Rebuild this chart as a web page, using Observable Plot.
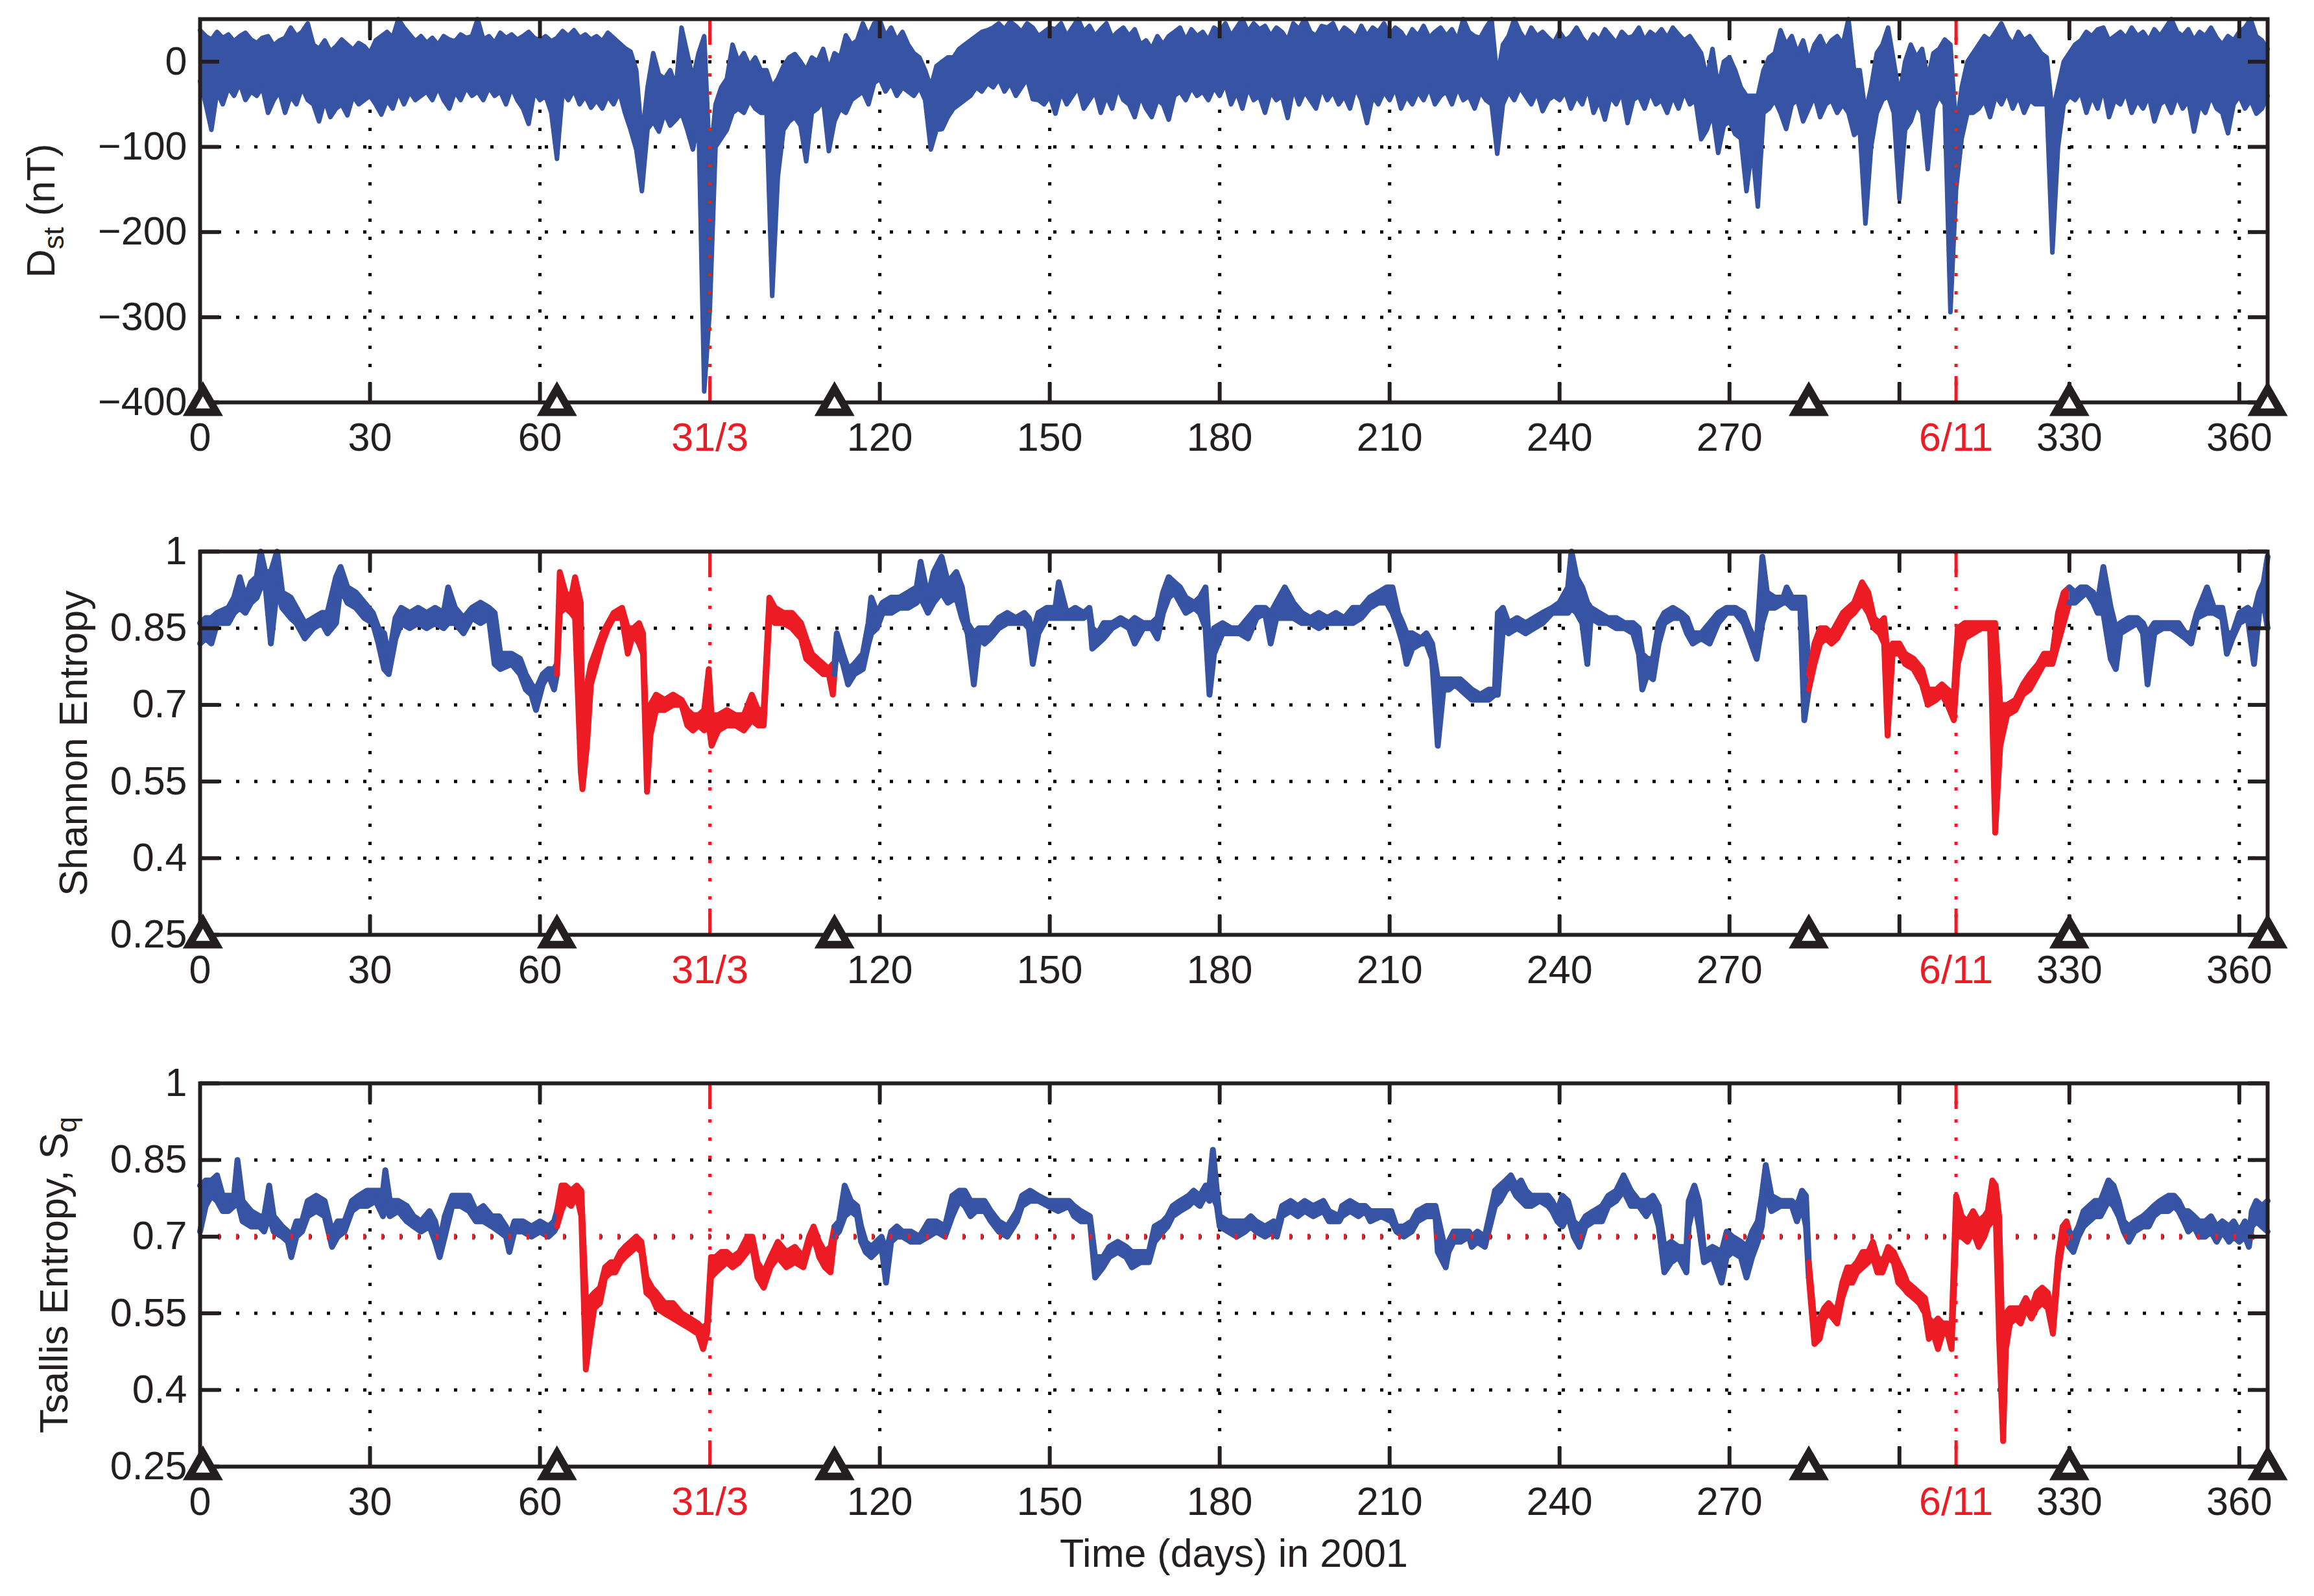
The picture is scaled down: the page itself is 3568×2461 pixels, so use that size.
<!DOCTYPE html>
<html><head><meta charset="utf-8">
<script src="https://cdn.jsdelivr.net/npm/d3@7"></script>
<script src="https://cdn.jsdelivr.net/npm/@observablehq/plot@0.6"></script>
<style>
html,body{margin:0;padding:0;background:#fff;overflow:hidden;}
#chart{position:relative;width:3568px;height:2461px;background:#fff;}
#chart svg{position:absolute;left:0;}
</style></head><body><div id="chart"></div>
<script>
// ---------- x axis ticks / events ----------
const tickDays = [30,60,120,150,180,210,240,270,300,330,360];
const labelDays = [0,30,60,120,150,180,210,240,270,330,360];
const labelTexts = ["0","30","60","120","150","180","210","240","270","330","360"];
const eventDays = [90, 310];
const eventLabels = ["31/3", "6/11"];
const triangleDays = [0.5, 63, 112, 284, 330, 365];

// ---------- Dst (nT), daily high / low envelope, index = day ----------
const dstHigh = [
 37,30,26,35,28,32,24,30,34,26,
 22,28,30,19,25,28,40,30,35,45,
 20,15,25,12,18,26,20,14,22,18,
 10,25,30,35,28,50,40,32,24,30,
 22,28,20,30,26,24,32,28,30,50,
 26,30,22,34,28,32,26,30,35,28,
 25,30,24,28,36,30,37,28,32,26,
 30,24,34,28,22,16,12,-10,-90,-30,
 10,-15,-20,-10,-30,40,10,-20,10,30,
 -120,-50,-30,-20,20,0,10,-5,5,-10,
 -10,-30,-20,-5,5,9,0,-10,5,0,
 15,-10,10,5,31,20,25,45,30,45,
 49,30,40,25,35,20,10,5,-10,-30,
 -5,0,5,5,15,20,25,30,35,37,
 40,45,38,47,42,35,45,40,30,35,
 40,38,45,30,40,50,35,42,30,38,
 45,28,35,40,30,38,20,25,15,30,
 20,30,35,40,25,38,30,35,25,40,
 35,45,30,40,50,35,45,38,42,30,
 40,35,25,45,38,50,35,30,42,40,
 45,30,40,35,28,42,30,40,35,45,
 30,40,35,25,38,30,42,28,35,40,
 30,38,25,50,35,30,28,40,50,-20,
 20,30,50,35,25,40,30,35,28,22,
 35,25,30,40,28,20,32,25,38,30,
 22,35,28,30,40,25,35,30,38,28,
 40,32,25,30,20,10,-20,15,-30,0,
 5,-10,-30,-40,-40,-40,-10,5,10,37,
 20,30,10,25,0,20,30,15,25,30,
 20,50,-10,-10,-60,-30,10,20,40,0,
 -40,0,20,5,15,-20,10,15,26,20,
 -80,-30,0,10,20,30,25,35,45,30,
 20,35,25,30,20,10,5,-60,-30,0,
 10,20,25,35,30,38,40,25,30,35,
 28,40,30,35,25,38,30,40,50,35,
 30,38,25,35,30,40,28,20,30,25,
 35,40,50,30,25,15
];
const dstLow = [
 -23,-50,-80,-35,-50,-30,-40,-25,-45,-35,
 -40,-30,-60,-45,-35,-60,-40,-50,-30,-45,
 -50,-70,-45,-65,-55,-50,-63,-40,-50,-45,
 -40,-50,-62,-45,-55,-35,-50,-35,-45,-40,
 -35,-45,-30,-45,-55,-35,-45,-30,-40,-35,
 -45,-30,-40,-35,-50,-30,-45,-55,-73,-35,
 -45,-40,-60,-114,-35,-45,-33,-50,-40,-54,
 -45,-55,-40,-50,-35,-60,-80,-103,-152,-79,
 -70,-82,-60,-75,-68,-60,-80,-103,-70,-387,
 -290,-100,-90,-80,-60,-55,-60,-45,-55,-60,
 -60,-275,-135,-80,-70,-65,-75,-117,-60,-55,
 -45,-105,-70,-55,-60,-45,-40,-35,-50,-25,
 -20,-35,-25,-40,-30,-35,-40,-30,-45,-103,
 -80,-79,-65,-55,-50,-45,-40,-30,-35,-25,
 -30,-20,-35,-25,-40,-30,-20,-44,-45,-50,
 -40,-61,-35,-50,-40,-30,-55,-45,-35,-60,
 -40,-55,-30,-45,-50,-65,-40,-55,-65,-45,
 -50,-68,-40,-35,-45,-30,-40,-35,-45,-30,
 -40,-25,-50,-35,-55,-30,-45,-40,-60,-35,
 -45,-40,-66,-30,-50,-35,-45,-55,-30,-45,
 -35,-50,-40,-55,-30,-45,-72,-40,-50,-35,
 -45,-30,-55,-40,-50,-35,-45,-30,-50,-40,
 -35,-50,-30,-45,-40,-55,-35,-45,-50,-108,
 -50,-35,-45,-30,-40,-50,-35,-58,-45,-40,
 -45,-35,-55,-40,-50,-30,-60,-45,-68,-40,
 -50,-35,-72,-45,-40,-55,-35,-50,-45,-60,
 -40,-55,-35,-50,-45,-91,-80,-60,-107,-75,
 -70,-85,-90,-152,-100,-170,-60,-55,-45,-60,
 -79,-50,-45,-70,-55,-40,-65,-50,-45,-60,
 -50,-60,-86,-80,-190,-100,-60,-45,-40,-60,
 -161,-80,-70,-50,-60,-126,-55,-40,-50,-294,
 -150,-90,-60,-60,-55,-45,-65,-40,-50,-35,
 -55,-40,-60,-45,-50,-50,-50,-224,-100,-50,
 -40,-45,-35,-60,-40,-55,-30,-65,-45,-50,
 -35,-60,-45,-55,-40,-70,-50,-45,-60,-40,
 -55,-45,-82,-50,-60,-40,-55,-60,-84,-50,
 -40,-55,-45,-61,-55,-40
];

// ---------- Shannon entropy ----------
const shannonDays = [
 0,1,2,3,5,6,7,8,9,10,
 10.7,11.5,12.5,13.6,14.5,16,17,18.5,20,21.5,
 22.5,24,24.8,26,27.5,29,30.5,31.5,32.5,33.3,
 34.5,35.5,37,38.5,40,41.5,43,43.8,45,46.5,
 48,49.5,51,52,53,55,56.5,57.5,58.5,59.3,
 60.5,61.5,62.5,63,63.5,64.5,65.5,66.2,67.2,67.5,
 68.3,69,70,71,72,73,74.5,75.5,76.5,77.5,
 78.2,78.9,79.5,80.5,82,83.5,85,86,87,88,
 89,89.8,90.3,91.5,93,94.5,96,97.4,98.5,99.5,
 100.5,101.5,103,104.5,106.1,107,108,109,110,111,
 111.7,112,112.4,113.5,114.4,115.5,117,118,118.5,119.5,
 120.5,122,123.5,125,126.5,127.2,128.5,129.5,130.9,132,
 133.5,134.5,135.5,136.6,137.5,138.5,139.5,141,142.5,144,
 145.5,146.3,147,148,149.5,151,151.6,153,154.5,156,
 157,157.5,158.5,159.5,161,162.5,164,165,166.5,168,
 169,170,171,172,173,174,175.5,176.5,177.5,178.2,
 179,180.5,182,183.5,185,186.5,188,189,190,191.5,
 193,194.5,196,197.5,199,200.5,202,203.5,205,206.5,
 208,209.5,210.5,211.5,212.3,213,214,215.5,216.5,217.5,
 218.5,219.5,220.5,221.5,222.5,223.5,224.5,226,227.5,228.6,
 229.1,230,231,232.5,234,235.5,237,238.7,240,241.5,
 242.1,243,244,244.9,245.5,247,248.5,250,251.5,253,
 254,254.6,255.5,256.5,257.5,258.5,260,261.5,262.5,263.5,
 265,266.5,268,269.5,271,272.5,273.5,274.8,275.8,276.6,
 278,279.5,280.1,281,282.5,283.2,284,285,286,287,
 288,289,290,291,292,293.4,294.5,295.5,296.5,297.3,
 297.9,298.8,300,301,302.5,304,305,306.5,307.5,308.5,
 309.6,310.3,311.5,313,314.5,316,316.9,317.8,319,320.5,
 321.8,323,324.5,325.5,327,328,329,330,331,332,
 333,334.2,335,336,337.3,338.2,339,340.5,342,343,
 343.8,345,346.5,348,349.3,350.5,351.5,352.5,354.3,355.5,
 357,357.8,358.8,360,361.5,362.6,363.5,364.3,365
];
const shannonLow = [
 .82,.83,.82,.86,.86,.88,.89,.88,.90,.91,
 .93,.94,.82,.93,.89,.87,.86,.83,.85,.86,
 .84,.86,.93,.90,.89,.87,.86,.82,.77,.76,
 .83,.86,.85,.86,.85,.86,.85,.86,.86,.84,
 .87,.86,.87,.78,.77,.78,.76,.73,.72,.69,
 .74,.76,.73,.76,.88,.89,.88,.87,.57,.535,
 .62,.74,.78,.82,.85,.87,.87,.80,.84,.82,
 .80,.53,.64,.69,.69,.70,.70,.66,.65,.66,
 .65,.66,.62,.65,.66,.66,.65,.67,.66,.66,
 .87,.86,.86,.85,.83,.79,.78,.77,.76,.76,
 .72,.76,.81,.78,.74,.76,.77,.82,.84,.85,
 .88,.88,.89,.89,.90,.91,.88,.90,.92,.90,
 .91,.87,.84,.74,.83,.82,.83,.85,.86,.86,
 .86,.85,.78,.84,.87,.87,.87,.87,.87,.87,
 .88,.81,.82,.83,.85,.86,.85,.82,.85,.85,
 .83,.88,.91,.92,.90,.88,.89,.88,.85,.72,
 .80,.84,.84,.84,.83,.87,.88,.82,.87,.87,
 .87,.86,.86,.85,.86,.86,.86,.86,.87,.89,
 .90,.90,.88,.85,.82,.78,.81,.82,.82,.79,
 .62,.73,.73,.74,.73,.72,.71,.71,.71,.72,
 .72,.85,.84,.85,.84,.85,.86,.88,.88,.88,
 .89,.88,.86,.78,.87,.86,.86,.85,.85,.84,
 .80,.73,.76,.75,.82,.86,.87,.87,.84,.82,
 .83,.82,.86,.88,.88,.86,.83,.79,.86,.89,
 .89,.90,.90,.89,.89,.67,.73,.78,.82,.83,
 .82,.83,.85,.87,.88,.90,.88,.85,.84,.82,
 .64,.80,.80,.78,.77,.74,.70,.71,.72,.70,
 .67,.78,.83,.84,.85,.85,.45,.62,.68,.69,
 .72,.73,.76,.78,.78,.82,.86,.90,.90,.91,
 .92,.90,.88,.88,.79,.77,.84,.85,.86,.84,
 .74,.84,.85,.85,.84,.83,.82,.87,.88,.88,
 .87,.80,.83,.86,.87,.78,.88,.90,.85
];
const shannonHigh = [
 .86,.87,.87,.88,.89,.91,.95,.91,.94,.95,
 1.0,.96,.96,1.0,.92,.91,.89,.86,.87,.88,
 .88,.95,.97,.93,.92,.90,.88,.85,.84,.79,
 .87,.89,.88,.89,.88,.89,.88,.93,.89,.87,
 .89,.90,.89,.88,.80,.80,.79,.76,.74,.73,
 .76,.77,.77,.78,.96,.92,.91,.95,.90,.60,
 .74,.78,.81,.84,.86,.88,.89,.85,.85,.86,
 .84,.60,.70,.72,.71,.72,.71,.69,.68,.68,
 .69,.77,.68,.68,.69,.68,.68,.72,.69,.69,
 .91,.89,.88,.88,.86,.83,.80,.79,.78,.77,
 .78,.78,.84,.80,.77,.78,.80,.86,.91,.88,
 .90,.91,.91,.92,.93,.98,.91,.96,.99,.94,
 .96,.93,.86,.84,.85,.85,.85,.87,.88,.87,
 .88,.87,.84,.88,.89,.89,.94,.88,.89,.88,
 .89,.85,.84,.86,.86,.87,.86,.87,.86,.86,
 .87,.92,.95,.94,.93,.91,.90,.91,.93,.80,
 .85,.86,.85,.85,.87,.89,.89,.88,.90,.93,
 .90,.88,.87,.88,.87,.88,.87,.89,.89,.91,
 .92,.93,.93,.88,.86,.84,.84,.83,.84,.82,
 .75,.75,.75,.75,.75,.74,.73,.72,.73,.73,
 .88,.89,.86,.87,.86,.87,.88,.89,.90,.93,
 1.0,.95,.93,.90,.89,.88,.87,.87,.86,.86,
 .85,.80,.79,.79,.86,.88,.89,.88,.87,.84,
 .84,.86,.88,.89,.89,.88,.85,.82,.99,.92,
 .91,.91,.93,.91,.91,.91,.76,.82,.85,.85,
 .84,.86,.88,.89,.90,.94,.92,.87,.86,.87,
 .80,.82,.82,.80,.79,.77,.73,.73,.74,.73,
 .72,.85,.86,.86,.86,.86,.86,.70,.70,.71,
 .74,.76,.78,.80,.80,.88,.92,.93,.92,.93,
 .93,.92,.90,.97,.89,.85,.86,.87,.87,.86,
 .84,.86,.86,.86,.86,.84,.84,.88,.93,.89,
 .89,.84,.84,.88,.89,.88,.92,.94,.99
];

// ---------- Tsallis entropy ----------
const tsallisDays = [
 0,1,2,3,4,5,6,6.6,7.5,9,
 10.5,11.3,12.2,13,14.5,15.5,16.1,17,18,19,
 20.5,22,23.3,24.3,25.5,26.8,28,29.5,31,32.3,
 32.7,33.5,35,36.5,37.7,39,40.5,41.5,42.3,43.2,
 44.5,46,47.5,48.7,50,51.5,52.8,54,54.6,55.5,
 57,58.5,60,61.5,62.5,63,63.8,64.5,65.5,66.5,
 67.3,68.1,68.8,69.6,70.6,71.5,72.5,73.3,74.2,75,
 76,77,77.9,78.8,79.8,80.6,82,83.5,85,86.5,
 87.9,88.8,89.5,90.2,91,92,93,94,95.2,96.6,
 97.5,98.4,99.5,100.7,102,103.5,105,106.5,107.5,108.3,
 109.3,110.3,111.3,112,112.8,113.8,114.9,116,116.7,117.5,
 118.5,119.4,120.3,121.1,122,123,124,125.5,127,128.6,
 130,131.5,132.8,134,135,136,137,138.5,139.6,141,
 142.5,144.2,145.1,146.5,148,149.7,151.5,153.4,154.3,155.5,
 157.1,158,159.4,160.5,162,163.5,164.5,166,167.5,168.5,
 170,170.8,171.7,173,174.5,175.4,176.5,177.5,178.2,178.8,
 179.5,180,181.5,183,184.5,185.5,186.4,188,189.5,190.1,
 191,192.5,193.8,195,196.5,198.3,199.3,201.1,201.6,203,
 204.5,205.7,206.6,208.5,210.3,211.2,212.5,213.9,214.9,216.5,
 218.1,218.5,219.9,220.4,221.3,222.5,224,224.5,225.5,226.8,
 228.6,229.5,230.5,231.4,232.3,233.2,234.1,235,236.5,238,
 238.7,239.6,240.5,241.5,242.5,243.5,244.6,246,247.5,248.6,
 250,251.3,252.6,254,255.3,256.5,257.5,258.5,259.7,261,
 262.4,262.8,263.8,264.6,265.5,267,268.6,269.5,270.5,272,
 273,274,275,275.7,276.4,277.4,279,281,281.9,282.8,
 283.5,284,285,285.9,286.7,287.5,288.3,289,289.9,290.8,
 291.7,292.5,293.5,294.5,295.3,296.1,297,298,299,299.8,
 300.7,301.4,302.5,303.5,304.5,305.2,306,306.8,307.6,308.5,
 309.2,310,311,312,313,314,315,315.6,316.4,317,
 317.6,318.3,318.8,319.5,320.5,321.4,322.3,323.3,324.2,325.2,
 326.2,327.1,328,328.8,329.5,330,330.7,331.6,332.5,333.5,
 334.5,335.5,336.9,337.8,338.7,339.6,340.5,341.5,343,344,
 344.9,346,347.5,348.5,349.3,350.2,351,352,352.9,354,
 355,356,357,358.2,359,360,361,361.7,362.2,363,
 364,365
];
const tsallisLow = [
 .71,.76,.78,.77,.75,.75,.76,.77,.73,.72,
 .72,.71,.74,.71,.70,.69,.66,.70,.71,.74,
 .75,.74,.68,.70,.71,.75,.76,.76,.77,.74,
 .76,.74,.75,.73,.72,.71,.72,.69,.66,.70,
 .76,.76,.75,.73,.73,.72,.71,.70,.67,.71,
 .71,.70,.71,.70,.71,.72,.75,.77,.76,.78,
 .74,.44,.50,.56,.57,.62,.63,.63,.65,.66,
 .67,.68,.67,.59,.58,.56,.55,.54,.53,.52,
 .51,.48,.51,.62,.63,.64,.65,.64,.65,.67,
 .68,.62,.60,.64,.66,.64,.65,.64,.68,.70,
 .66,.64,.63,.70,.71,.74,.75,.74,.69,.67,
 .66,.67,.68,.61,.69,.70,.70,.69,.69,.70,
 .71,.70,.74,.77,.76,.74,.75,.75,.73,.71,
 .70,.73,.76,.77,.77,.76,.75,.76,.74,.73,
 .73,.62,.64,.66,.67,.66,.64,.65,.65,.69,
 .71,.72,.74,.75,.76,.77,.76,.78,.77,.78,
 .76,.72,.71,.70,.71,.72,.71,.70,.71,.70,
 .74,.75,.74,.75,.74,.75,.73,.73,.74,.75,
 .74,.75,.73,.74,.73,.71,.70,.71,.73,.74,
 .74,.67,.64,.67,.69,.69,.70,.68,.69,.68,
 .76,.77,.79,.80,.78,.77,.76,.76,.77,.76,
 .75,.73,.72,.74,.70,.68,.72,.73,.73,.76,
 .77,.79,.76,.76,.74,.76,.72,.63,.65,.66,
 .63,.72,.77,.72,.65,.66,.61,.66,.67,.66,
 .62,.66,.69,.72,.79,.75,.76,.76,.73,.76,
 .72,.62,.49,.50,.54,.55,.54,.53,.58,.61,
 .61,.63,.64,.65,.66,.63,.63,.66,.65,.61,
 .60,.59,.58,.57,.55,.50,.51,.48,.51,.51,
 .48,.70,.70,.69,.71,.68,.70,.72,.73,.74,
 .50,.30,.48,.53,.54,.53,.56,.54,.56,.57,
 .56,.51,.63,.69,.69,.68,.67,.70,.72,.73,
 .74,.74,.77,.76,.74,.71,.69,.71,.72,.72,
 .74,.75,.75,.76,.75,.73,.71,.72,.70,.70,
 .71,.69,.71,.69,.70,.69,.70,.68,.72,.73,
 .72,.71
];
const tsallisHigh = [
 .80,.81,.81,.82,.78,.78,.78,.85,.77,.75,
 .74,.74,.80,.74,.72,.71,.70,.73,.73,.77,
 .78,.77,.71,.73,.73,.77,.78,.79,.79,.79,
 .83,.77,.77,.76,.74,.73,.75,.73,.69,.74,
 .78,.78,.78,.75,.76,.74,.74,.72,.70,.73,
 .73,.72,.73,.72,.73,.75,.80,.80,.79,.80,
 .79,.58,.58,.59,.60,.64,.65,.65,.67,.68,
 .69,.70,.69,.62,.60,.59,.57,.57,.55,.54,
 .53,.52,.53,.66,.66,.67,.67,.66,.67,.70,
 .70,.65,.63,.66,.69,.67,.68,.66,.70,.72,
 .69,.67,.68,.72,.73,.80,.77,.76,.72,.69,
 .68,.69,.70,.67,.71,.72,.71,.71,.70,.73,
 .73,.72,.78,.79,.79,.77,.77,.77,.75,.73,
 .72,.75,.78,.79,.78,.77,.77,.77,.76,.75,
 .74,.66,.66,.68,.69,.68,.67,.67,.67,.72,
 .73,.74,.76,.77,.78,.79,.78,.80,.80,.87,
 .79,.74,.73,.73,.73,.74,.73,.72,.73,.72,
 .76,.77,.76,.77,.76,.77,.75,.74,.76,.77,
 .76,.76,.75,.75,.75,.72,.72,.73,.75,.76,
 .76,.74,.67,.69,.71,.71,.71,.70,.71,.70,
 .79,.80,.81,.82,.80,.81,.79,.78,.78,.78,
 .77,.75,.78,.77,.73,.72,.74,.75,.76,.78,
 .79,.82,.79,.77,.77,.78,.76,.68,.69,.68,
 .68,.77,.80,.77,.67,.68,.67,.71,.70,.69,
 .68,.71,.73,.78,.84,.78,.77,.77,.76,.79,
 .78,.65,.53,.54,.56,.57,.56,.56,.61,.64,
 .64,.65,.67,.67,.69,.66,.65,.68,.67,.65,
 .63,.61,.60,.59,.58,.54,.53,.54,.53,.53,
 .52,.78,.74,.73,.75,.73,.74,.75,.81,.80,
 .74,.45,.55,.56,.56,.56,.58,.56,.59,.60,
 .59,.54,.66,.72,.73,.71,.70,.72,.75,.76,
 .77,.77,.81,.80,.77,.73,.72,.73,.74,.75,
 .76,.77,.78,.78,.77,.75,.75,.74,.73,.73,
 .74,.72,.73,.72,.73,.71,.73,.70,.75,.77,
 .76,.77
];

// ---------- y axes ----------
const dstTicks = [0,-100,-200,-300,-400];
const dstTickLabels = ["0","\u2212100","\u2212200","\u2212300","\u2212400"];
const entTicks = [1,0.85,0.7,0.55,0.4,0.25];
const entTickLabels = ["1","0.85","0.7","0.55","0.4","0.25"];
const tsallisThreshold = [0.7];

// ---------- layout ----------
const W = 3568, ML = 308, MR = 72, MT = 29, PH = 591;
const PW = W - ML - MR;
const BLUE = "#3653a4", RED = "#ed1c24", INK = "#231f20";
const FONT = "'Liberation Sans', Arial, Helvetica, sans-serif";
const FS = 61;
const segments = [[0,63,false],[63,112,true],[112,284,false],[284,330,true],[330,365,false]];

function toRows(days, lo, hi) { return days.map((d,i) => ({day:d, lo:lo[i], hi:hi[i]})); }

function dataMarks(rows, colored, sw) {
  const out = [];
  const segs = colored ? segments.map(([a,b,r]) => [a,b,r ? RED : BLUE]) : [[0,365,BLUE]];
  for (const [a,b,c] of segs) {
    const r = rows.filter(d => d.day >= a && d.day <= b);
    out.push(Plot.areaY(r, {x:"day", y1:"lo", y2:"hi", fill:c, curve:"linear"}));
    out.push(Plot.lineY(r, {x:"day", y:"lo", stroke:c, strokeWidth:sw, strokeLinejoin:"round", strokeLinecap:"round"}));
    out.push(Plot.lineY(r, {x:"day", y:"hi", stroke:c, strokeWidth:sw, strokeLinejoin:"round", strokeLinecap:"round"}));
  }
  return out;
}

function panel(o) {
  const height = o.height;
  const mb = height - MT - PH;
  const marks = [
    Plot.ruleX(tickDays, {x:d=>d, stroke:"#000", strokeWidth:5, strokeDasharray:"5,23"}),
    Plot.ruleY(o.gridY, {y:d=>d, stroke:"#000", strokeWidth:5, strokeDasharray:"5,23"}),
    ...dataMarks(o.rows, o.colored, o.sw),
    Plot.ruleX(eventDays, {x:d=>d, stroke:RED, strokeWidth:5, strokeDasharray:"5,23"}),
    ...(o.extra || []),
    Plot.tickX(tickDays, {x:d=>d, stroke:INK, strokeWidth:6, insetTop:PH-30}),
    Plot.tickX(tickDays, {x:d=>d, stroke:INK, strokeWidth:6, insetBottom:PH-30}),
    Plot.tickX(eventDays, {x:d=>d, stroke:RED, strokeWidth:5, insetTop:PH-40}),
    Plot.tickX(eventDays, {x:d=>d, stroke:RED, strokeWidth:5, insetBottom:PH-40}),
    Plot.tickY(o.yTicks, {y:d=>d, stroke:INK, strokeWidth:6, insetRight:PW-30}),
    Plot.tickY(o.yTicks, {y:d=>d, stroke:INK, strokeWidth:6, insetLeft:PW-30}),
    Plot.frame({stroke:INK, strokeWidth:6}),
    Plot.text(o.yTicks, {y:d=>d, text:(d,i)=>o.yTickLabels[i], frameAnchor:"left", textAnchor:"end", lineAnchor:"middle", dx:-20, fontSize:FS, fill:INK}),
    Plot.text(labelDays, {x:d=>d, text:(d,i)=>labelTexts[i], frameAnchor:"bottom", textAnchor:"middle", lineAnchor:"middle", dy:55, fontSize:FS, fill:INK}),
    Plot.text(eventDays, {x:d=>d, text:(d,i)=>eventLabels[i], frameAnchor:"bottom", textAnchor:"middle", lineAnchor:"middle", dy:55, fontSize:FS, fill:RED}),
    // open triangle markers with a heavy black edge: outer solid triangle + small white core
    Plot.dot(triangleDays, {x:d=>d, frameAnchor:"bottom", dy:3, symbol:"triangle", r:23, fill:INK, stroke:"none"}),
    Plot.dot(triangleDays, {x:d=>d, frameAnchor:"bottom", dy:3, symbol:"triangle", r:8, fill:"#fff", stroke:"none"}),
    Plot.text([o.label], {frameAnchor:"left", textAnchor:"middle", lineAnchor:"middle", rotate:-90, dx:o.labelDx, fontSize:FS, text:d=>d, fill:INK})
  ];
  if (o.xTitle) marks.push(Plot.text([o.xTitle], {frameAnchor:"bottom", textAnchor:"middle", lineAnchor:"middle", dy:135, fontSize:FS, text:d=>d, fill:INK}));
  const svg = Plot.plot({
    width: W, height, marginLeft: ML, marginRight: MR, marginTop: MT, marginBottom: mb,
    x: {domain: [0, 365]}, y: {domain: o.yDomain}, axis: null,
    style: {background: "#fff", fontFamily: FONT, overflow: "visible"},
    marks
  });
  svg.style.top = o.top + "px";
  if (o.sub) {
    svg.querySelectorAll("text").forEach(t => {
      if (t.textContent === o.label) t.innerHTML = o.sub;
    });
  }
  document.getElementById("chart").appendChild(svg);
}

panel({
  top: 0, height: 821, yDomain: [-400, 50], yTicks: dstTicks, yTickLabels: dstTickLabels,
  gridY: [0,-100,-200,-300], rows: dstHigh.map((h,i) => ({day:i, lo:dstLow[i], hi:h})),
  colored: false, sw: 7, label: "Dst (nT)", labelDx: -244,
  sub: 'D<tspan dy="14" font-size="44">st</tspan><tspan dy="-14"> (nT)</tspan>'
});
panel({
  top: 821, height: 821, yDomain: [0.25, 1], yTicks: entTicks, yTickLabels: entTickLabels,
  gridY: [0.85,0.7,0.55,0.4], rows: toRows(shannonDays, shannonLow, shannonHigh),
  colored: true, sw: 9, label: "Shannon Entropy", labelDx: -194
});
panel({
  top: 1641, height: 820, yDomain: [0.25, 1], yTicks: entTicks, yTickLabels: entTickLabels,
  gridY: [0.85,0.7,0.55,0.4], rows: toRows(tsallisDays, tsallisLow, tsallisHigh),
  colored: true, sw: 9, label: "Tsallis Entropy, Sq", labelDx: -224,
  sub: 'Tsallis Entropy, S<tspan dy="14" font-size="44">q</tspan>',
  extra: [Plot.ruleY(tsallisThreshold, {y:d=>d, stroke:RED, strokeWidth:9, strokeDasharray:"4,24"})],
  xTitle: "Time (days) in 2001"
});
</script>
</body></html>
